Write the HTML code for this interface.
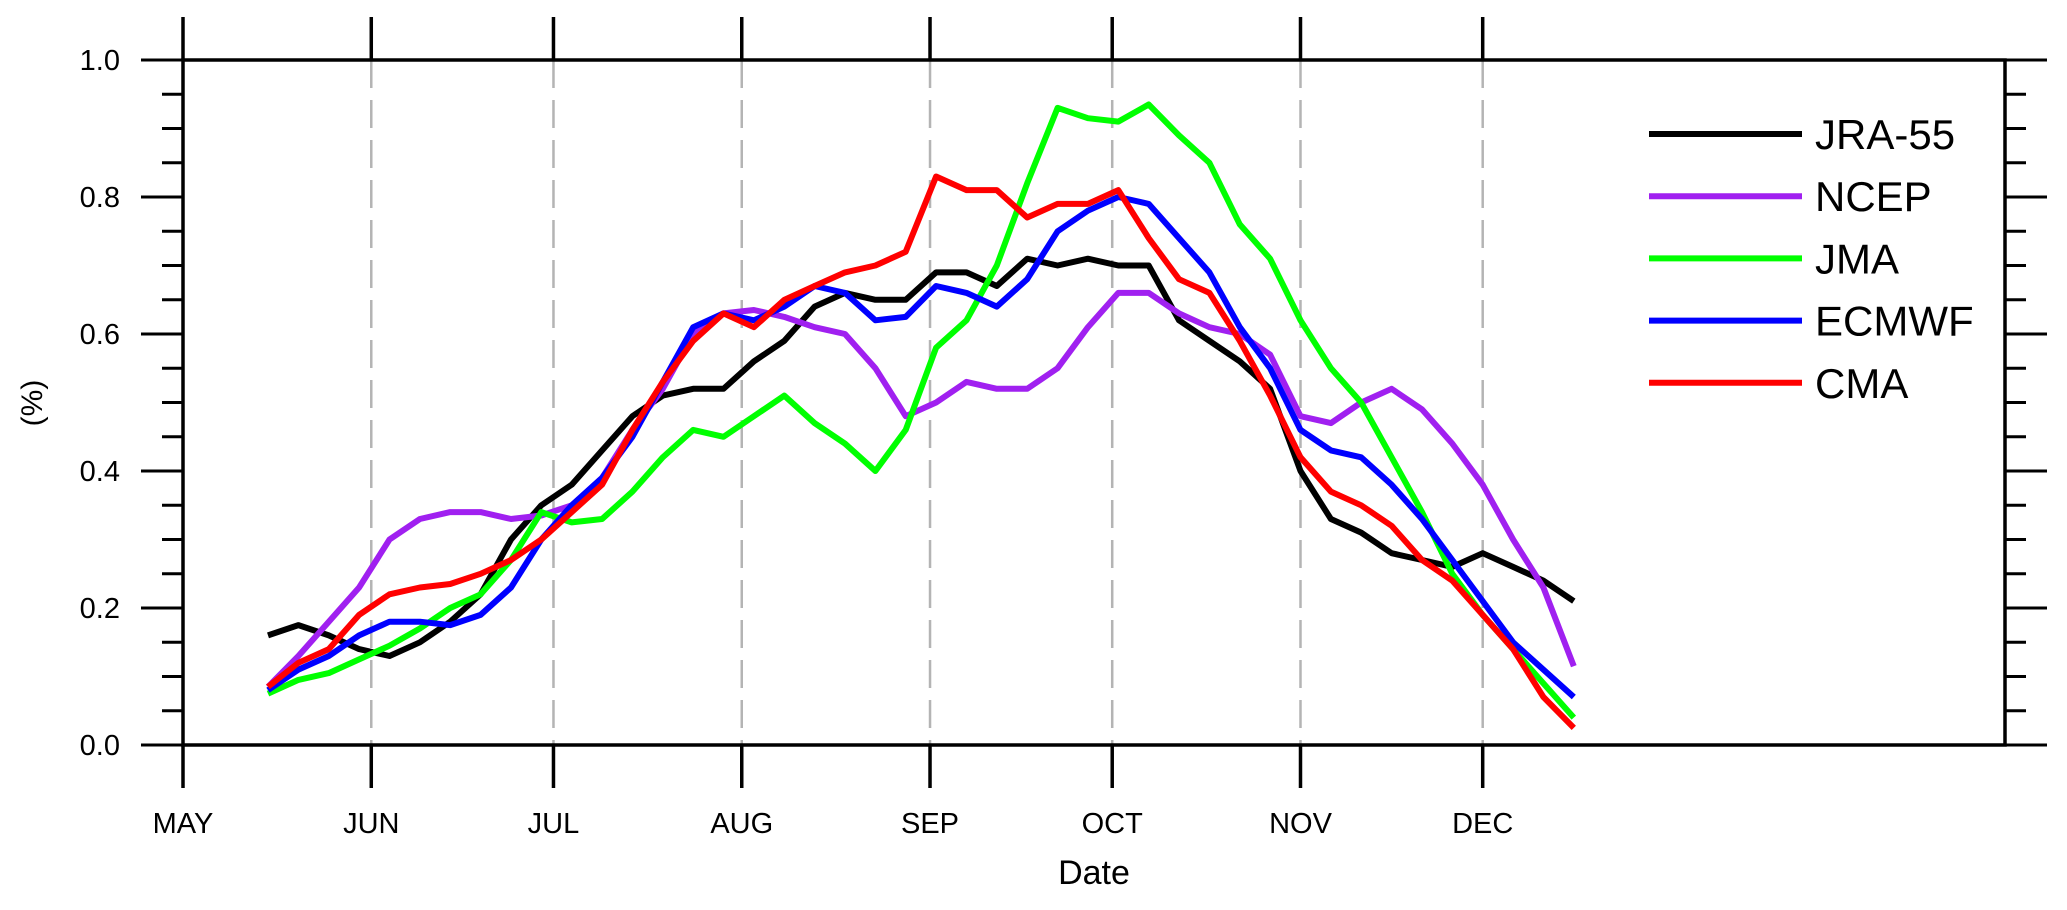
<!DOCTYPE html>
<html><head><meta charset="utf-8"><style>
html,body{margin:0;padding:0;background:#fff}
svg{display:block;font-family:"Liberation Sans",sans-serif}
</style></head><body>
<svg id="chart" width="2067" height="910" viewBox="0 0 2067 910" xmlns="http://www.w3.org/2000/svg">
<g id="grid"></g>
<g id="series"></g>
<g id="axes"></g>
<g id="legend"></g>
<text x="1094" y="884" font-size="34" text-anchor="middle">Date</text>
<text x="0" y="0" font-size="30" text-anchor="middle" transform="translate(42,403) rotate(-90)">(%)</text>
</svg>
<script>
const days=[14,19,24,29,34,39,44,49,54,59,64,69,74,79,84,89,94,99,104,109,114,119,124,129,134,139,144,149,154,159,164,169,174,179,184,189,194,199,204,209,214,219,224,229];
const jra=[0.16,0.175,0.16,0.14,0.13,0.15,0.18,0.22,0.30,0.35,0.38,0.43,0.48,0.51,0.52,0.52,0.56,0.59,0.64,0.66,0.65,0.65,0.69,0.69,0.67,0.71,0.70,0.71,0.70,0.70,0.62,0.59,0.56,0.52,0.40,0.33,0.31,0.28,0.27,0.26,0.28,0.26,0.24,0.21];
const ncep=[0.085,0.13,0.18,0.23,0.30,0.33,0.34,0.34,0.33,0.335,0.35,0.39,0.46,0.52,0.60,0.63,0.635,0.625,0.61,0.60,0.55,0.48,0.50,0.53,0.52,0.52,0.55,0.61,0.66,0.66,0.63,0.61,0.60,0.57,0.48,0.47,0.50,0.52,0.49,0.44,0.38,0.30,0.23,0.115];
const jma=[0.075,0.095,0.105,0.125,0.145,0.17,0.20,0.22,0.27,0.34,0.325,0.33,0.37,0.42,0.46,0.45,0.48,0.51,0.47,0.44,0.40,0.46,0.58,0.62,0.70,0.82,0.93,0.915,0.91,0.935,0.89,0.85,0.76,0.71,0.62,0.55,0.50,0.42,0.34,0.25,0.19,0.14,0.09,0.04];
const ecmwf=[0.08,0.11,0.13,0.16,0.18,0.18,0.175,0.19,0.23,0.30,0.35,0.39,0.45,0.53,0.61,0.63,0.62,0.64,0.67,0.66,0.62,0.625,0.67,0.66,0.64,0.68,0.75,0.78,0.80,0.79,0.74,0.69,0.61,0.55,0.46,0.43,0.42,0.38,0.33,0.27,0.21,0.15,0.11,0.07];
const cma=[0.085,0.12,0.14,0.19,0.22,0.23,0.235,0.25,0.27,0.30,0.34,0.38,0.46,0.53,0.59,0.63,0.61,0.65,0.67,0.69,0.70,0.72,0.83,0.81,0.81,0.77,0.79,0.79,0.81,0.74,0.68,0.66,0.59,0.51,0.42,0.37,0.35,0.32,0.27,0.24,0.19,0.14,0.07,0.025];
const seriesNames=["JRA-55","NCEP","JMA","ECMWF","CMA"];
const seriesColors=["#000000","#a020f0","#00ff00","#0000ff","#ff0000"];
const monthLabels=["MAY","JUN","JUL","AUG","SEP","OCT","NOV","DEC"];
const monthDays=[0,31,61,92,123,153,184,214];
const yTicks=[0,0.2,0.4,0.6,0.8,1.0];
const NS="http://www.w3.org/2000/svg";
const X0=183,X1=2005,Y0=745,Y1=60,D0=0,D1=300;
function xs(d){return X0+(d-D0)/(D1-D0)*(X1-X0);}
function ys(v){return Y0-v*(Y0-Y1);}
function mk(tag,attrs,parent){const e=document.createElementNS(NS,tag);for(const k in attrs)e.setAttribute(k,attrs[k]);parent.appendChild(e);return e;}
const grid=document.getElementById('grid'),ser=document.getElementById('series'),axes=document.getElementById('axes'),leg=document.getElementById('legend');
monthDays.forEach((d,i)=>{
  const x=xs(d);
  if(i>0){const g=mk('line',{x1:x,x2:x,y1:Y1,y2:Y0,stroke:'#b4b4b4','stroke-width':2.5,'stroke-dasharray':'28 12'},grid);
  
  }
  const t1=mk('line',{x1:x,x2:x,y1:Y0,y2:Y0+43,stroke:'#000','stroke-width':3.5},axes);
  
  
  const t2=mk('line',{x1:x,x2:x,y1:Y1,y2:Y1-43,stroke:'#000','stroke-width':3.5},axes);
  
  
  const l=mk('text',{x:x,y:833,'font-size':29,'text-anchor':'middle'},axes);l.textContent=monthLabels[i];
  
  
});
for(let k=0;k<=20;k++){
  const v=k*0.05,y=ys(v),maj=k%4===0,len=maj?42:21;
  const a=mk('line',{x1:X0-len,x2:X0,y1:y,y2:y,stroke:'#000','stroke-width':3},axes);
  
  
  const b=mk('line',{x1:X1,x2:X1+len,y1:y,y2:y,stroke:'#000','stroke-width':3},axes);
  
  
}
yTicks.forEach(v=>{
  const t=mk('text',{x:120,y:ys(v)+10,'font-size':29,'text-anchor':'end'},axes);t.textContent=v.toFixed(1);
  
  
});
const frame=mk('rect',{x:X0,y:Y1,width:X1-X0,height:Y0-Y1,fill:'none',stroke:'#000','stroke-width':3.5},axes);


[jra,ncep,jma,ecmwf,cma].forEach((arr,i)=>{
  const pts=arr.map((v,j)=>xs(days[j]).toFixed(1)+','+ys(v).toFixed(1)).join(' ');
  const p=mk('polyline',{points:pts,fill:'none',stroke:seriesColors[i],'stroke-width':6,'stroke-linejoin':'round'},ser);
  
  
  const ly=134+i*62.2;
  const ll=mk('line',{x1:1649,x2:1802,y1:ly,y2:ly,stroke:seriesColors[i],'stroke-width':6},leg);
  
  
  const lt=mk('text',{x:1815,y:ly+15,'font-size':42},leg);lt.textContent=seriesNames[i];
  
  
});
</script>
</body></html>
